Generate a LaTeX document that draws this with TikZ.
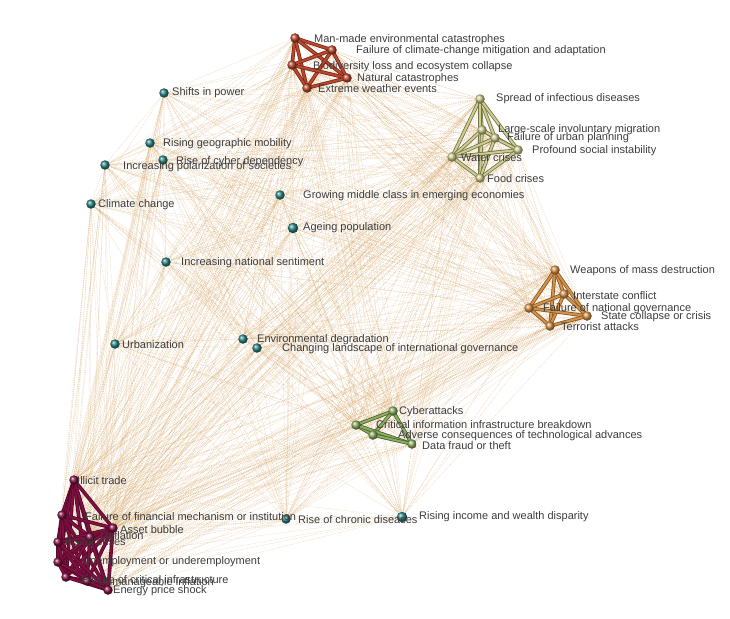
\documentclass[tikz,border=0pt]{standalone}
\usepackage{fontspec}
\setmainfont{Liberation Sans}
\usetikzlibrary{backgrounds}
\definecolor{txtc}{RGB}{60,60,60}
\definecolor{webc}{RGB}{210,160,95}
\definecolor{tealc}{RGB}{40,130,130}
\definecolor{envc}{RGB}{190,70,45}
\definecolor{socc}{RGB}{205,205,140}
\definecolor{geoc}{RGB}{215,145,70}
\definecolor{tecc}{RGB}{140,175,95}
\definecolor{ecoc}{RGB}{130,15,65}
\tikzset{
  bl/.style   ={circle,inner sep=0pt,minimum size=9.5pt},
  tl/.style   ={bl,ball color=tealc},
  envb/.style ={bl,ball color=envc},
  socb/.style ={bl,ball color=socc},
  geob/.style ={bl,ball color=geoc},
  tecb/.style ={bl,ball color=tecc},
  ecob/.style ={bl,ball color=ecoc},
  tube/.style ={line width=0.8pt,double distance=2pt,line cap=round},
  envt/.style ={tube,draw=envc!60!black,double=envc},
  soct/.style ={tube,draw=socc!55!black,double=socc},
  geot/.style ={tube,draw=geoc!60!black,double=geoc},
  tect/.style ={tube,draw=tecc!55!black,double=tecc},
  ecot/.style ={tube,draw=ecoc!65!black,double=ecoc},
  web/.style  ={draw=webc,line width=0.3pt,opacity=0.5,dash pattern=on 1pt off 0.8pt},
  lbl/.style  ={anchor=west,inner sep=0pt,text=txtc,font=\fontsize{11}{12}\selectfont},
}
\newcommand{\envlist}{manmade,climfail,biodiv,natcat,extreme}
\newcommand{\soclist}{infect,migr,urban,unrest,water,food}
\newcommand{\geolist}{wmd,interstate,natgov,statecol,terror}
\newcommand{\teclist}{cyber,ciib,adverse,datafr}
\newcommand{\ecolist}{illicit,finfail,bubble,deflat,fiscal,unempl,critinf,inflat,energy}
\newcommand{\allrisks}{manmade,climfail,biodiv,natcat,extreme,infect,migr,urban,unrest,water,food,
  wmd,interstate,natgov,statecol,terror,cyber,ciib,adverse,datafr,
  illicit,finfail,bubble,deflat,fiscal,unempl,critinf,inflat,energy,
  shifts,mobil,cyberdep,polar,climch,middle,ageing,national,urbaniz,envdeg,govland,chronic,disparity}

\begin{document}
\begin{tikzpicture}[x=1pt,y=-1pt]
  \useasboundingbox (0,0) rectangle (730,618);
  % environmental
  \node[envb] (manmade)  at (295,38) {};
  \node[envb] (climfail) at (332,50) {};
  \node[envb] (biodiv)   at (292,65) {};
  \node[envb] (natcat)   at (347,78) {};
  \node[envb] (extreme)  at (307,88) {};
  % societal
  \node[socb] (infect) at (480,99) {};
  \node[socb] (migr)   at (482,130) {};
  \node[socb] (urban)  at (495,138) {};
  \node[socb] (unrest) at (518,150) {};
  \node[socb] (water)  at (452,157) {};
  \node[socb] (food)   at (480,178) {};
  % geopolitical
  \node[geob] (wmd)        at (555,270) {};
  \node[geob] (interstate) at (564,294) {};
  \node[geob] (natgov)     at (529,308) {};
  \node[geob] (statecol)   at (587,316) {};
  \node[geob] (terror)     at (550,326) {};
  % technological
  \node[tecb] (cyber)   at (393,411) {};
  \node[tecb] (ciib)    at (356,425) {};
  \node[tecb] (adverse) at (373,435) {};
  \node[tecb] (datafr)  at (412,444) {};
  % economic
  \node[ecob] (illicit) at (74,480) {};
  \node[ecob] (finfail) at (62,515) {};
  \node[ecob] (bubble)  at (113,528) {};
  \node[ecob] (deflat)  at (90,537) {};
  \node[ecob] (fiscal)  at (58,542) {};
  \node[ecob] (unempl)  at (58,562) {};
  \node[ecob] (critinf) at (66,577) {};
  \node[ecob] (inflat)  at (87,581) {};
  \node[ecob] (energy)  at (108,590) {};
  % trends
  \node[tl] (shifts)    at (164,93) {};
  \node[tl] (mobil)     at (150,143) {};
  \node[tl] (cyberdep)  at (163,160) {};
  \node[tl] (polar)     at (105,165) {};
  \node[tl] (climch)    at (91,204) {};
  \node[tl] (middle)    at (280,195) {};
  \node[tl,minimum size=10.5pt] (ageing) at (293,228) {};
  \node[tl] (national)  at (166,262) {};
  \node[tl] (urbaniz)   at (115,344) {};
  \node[tl] (envdeg)    at (243,339) {};
  \node[tl] (govland)   at (257,348) {};
  \node[tl] (chronic)   at (286,519) {};
  \node[tl,minimum size=10.5pt] (disparity) at (402,517) {};

  \begin{scope}[on background layer]
    \foreach \a [count=\i] in \allrisks
      \foreach \b [count=\j] in \allrisks
        {\ifnum\j>\i \draw[web] (\a) -- (\b); \fi}
    \foreach \a [count=\i] in \envlist
      \foreach \b [count=\j] in \envlist
        {\ifnum\j>\i \draw[envt] (\a.center) -- (\b.center); \fi}
    \foreach \a [count=\i] in \soclist
      \foreach \b [count=\j] in \soclist
        {\ifnum\j>\i \draw[soct] (\a.center) -- (\b.center); \fi}
    \foreach \a [count=\i] in \geolist
      \foreach \b [count=\j] in \geolist
        {\ifnum\j>\i \draw[geot] (\a.center) -- (\b.center); \fi}
    \foreach \a [count=\i] in \teclist
      \foreach \b [count=\j] in \teclist
        {\ifnum\j>\i \draw[tect] (\a.center) -- (\b.center); \fi}
    \foreach \a [count=\i] in \ecolist
      \foreach \b [count=\j] in \ecolist
        {\ifnum\j>\i \draw[ecot] (\a.center) -- (\b.center); \fi}
  \end{scope}

  % labels
  \node[lbl] (lmanmade)  at (314,40) {Man-made environmental catastrophes};
  \node[lbl] (lclimfail) at (356,51) {Failure of climate-change mitigation and adaptation};
  \node[lbl] (lbiodiv)   at (313,67) {Biodiversity loss and ecosystem collapse};
  \node[lbl] (lnatcat)   at (357,79) {Natural catastrophes};
  \node[lbl] (lextreme)  at (318,89) {Extreme weather events};
  \node[lbl] (linfect)   at (496,99) {Spread of infectious diseases};
  \node[lbl] (lmigr)     at (498,130) {Large-scale involuntary migration};
  \node[lbl] (lurban)    at (507,138) {Failure of urban planning};
  \node[lbl] (lunrest)   at (532,151) {Profound social instability};
  \node[lbl] (lwater)    at (461,158) {Water crises};
  \node[lbl] (lfood)     at (487,179) {Food crises};
  \node[lbl] (lwmd)        at (570,271) {Weapons of mass destruction};
  \node[lbl] (linterstate) at (573,296) {Interstate conflict};
  \node[lbl] (lnatgov)     at (543,309) {Failure of national governance};
  \node[lbl] (lstatecol)   at (601,317) {State collapse or crisis};
  \node[lbl] (lterror)     at (561,327) {Terrorist attacks};
  \node[lbl] (lcyber)   at (399,412) {Cyberattacks};
  \node[lbl] (lciib)    at (376,425) {Critical information infrastructure breakdown};
  \node[lbl] (ladverse) at (398,436) {Adverse consequences of technological advances};
  \node[lbl] (ldatafr)  at (422,446) {Data fraud or theft};
  \node[lbl] (lillicit) at (77,481) {Illicit trade};
  \node[lbl] (lfinfail) at (85,517) {Failure of financial mechanism or institution};
  \node[lbl] (lbubble)  at (120,530) {Asset bubble};
  \node[lbl] (ldeflat)  at (100,536) {Deflation};
  \node[lbl] (lfiscal)  at (65,542) {Fiscal crises};
  \node[lbl] (lunempl)  at (82,562) {Unemployment or underemployment};
  \node[lbl] (lcritinf) at (81,580) {Failure of critical infrastructure};
  \node[lbl] (linflat)  at (98,583) {Unmanageable inflation};
  \node[lbl] (lenergy)  at (113,591) {Energy price shock};
  \node[lbl] (lshifts)    at (172,93) {Shifts in power};
  \node[lbl] (lmobil)     at (163,144) {Rising geographic mobility};
  \node[lbl] (lcyberdep)  at (176,162) {Rise of cyber dependency};
  \node[lbl] (lpolar)     at (123,167) {Increasing polarization of societies};
  \node[lbl] (lclimch)    at (98,205) {Climate change};
  \node[lbl] (lmiddle)    at (303,196) {Growing middle class in emerging economies};
  \node[lbl] (lageing)    at (303,228) {Ageing population};
  \node[lbl] (lnational)  at (181,263) {Increasing national sentiment};
  \node[lbl] (lurbaniz)   at (122,345) {Urbanization};
  \node[lbl] (lenvdeg)    at (257,340) {Environmental degradation};
  \node[lbl] (lgovland)   at (282,349) {Changing landscape of international governance};
  \node[lbl] (lchronic)   at (298,520) {Rise of chronic diseases};
  \node[lbl] (ldisparity) at (419,517) {Rising income and wealth disparity};
\end{tikzpicture}
\end{document}
